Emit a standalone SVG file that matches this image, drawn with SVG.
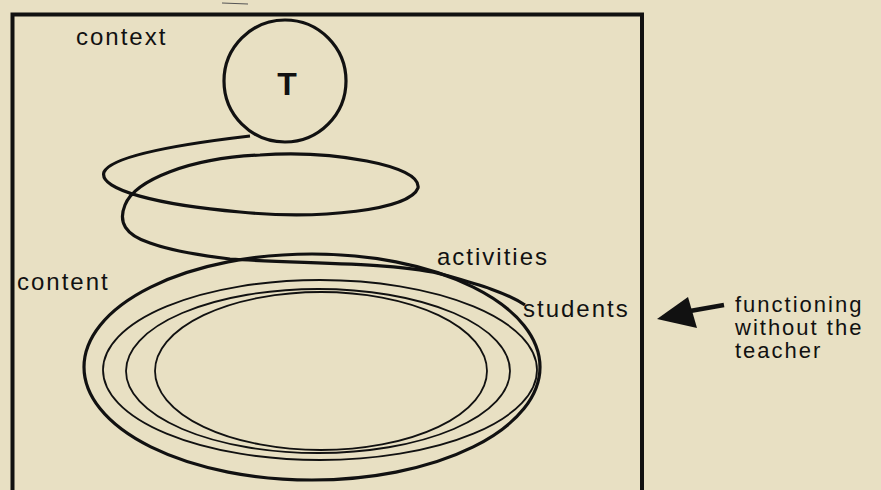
<svg xmlns="http://www.w3.org/2000/svg" width="881" height="490" viewBox="0 0 881 490">
<style>
.lbl{font-family:"Liberation Sans",Arial,sans-serif;font-size:24px;letter-spacing:2px;fill:#111}
.note{font-family:"Liberation Sans",Arial,sans-serif;font-size:22px;letter-spacing:2px;fill:#111}
.thick{fill:none;stroke:#111;stroke-width:3.2}
.thin{fill:none;stroke:#111;stroke-width:1.8}
</style>
<rect width="881" height="490" fill="#e8e0c3"/>
<line x1="222" y1="3" x2="248" y2="4" stroke="#555" stroke-width="1.2"/>
<g id="frame">
<polyline points="12.5,492 12.5,14.5 642,14.5 642,492" fill="none" stroke="#111" stroke-width="4"/>
</g>
<g id="teacher">
<circle cx="285" cy="81" r="61" class="thick"/>
<text x="287" y="95" text-anchor="middle" font-family="Liberation Sans,Arial,sans-serif" font-weight="bold" font-size="32" fill="#111">T</text>
</g>
<g id="rings">
<ellipse cx="312" cy="367" rx="228" ry="113" class="thick" stroke-width="3.6"/>
<ellipse cx="320" cy="370" rx="217" ry="90" class="thin"/>
<ellipse cx="318" cy="371" rx="192" ry="82" class="thin"/>
<ellipse cx="321" cy="371" rx="166" ry="79" class="thin"/>
</g>
<g id="connectors">
<path class="thick" d="M250 136 C190 143,112 155,104 172 C98 190,160 205,240 212 C320 220,410 210,418 188 C422 165,330 150,260 155 C190 158,135 180,125 205 C118 222,125 235,150 243 C175 252,205 256,230 259 C300 264,400 262,445 275 C480 285,505 292,525 305"/>
<path d="M657 319 L688 297 L697 328 Z" fill="#111"/>
<line x1="690" y1="311" x2="724" y2="305" stroke="#111" stroke-width="4.5"/>
</g>
<g id="labels">
<text class="lbl" x="76" y="45">context</text>
<text class="lbl" x="17" y="290">content</text>
<text class="lbl" x="437" y="265">activities</text>
<text class="lbl" x="523" y="317">students</text>
<text class="note" x="735" y="312">functioning</text>
<text class="note" x="735" y="335">without the</text>
<text class="note" x="735" y="358">teacher</text>
</g>
</svg>
